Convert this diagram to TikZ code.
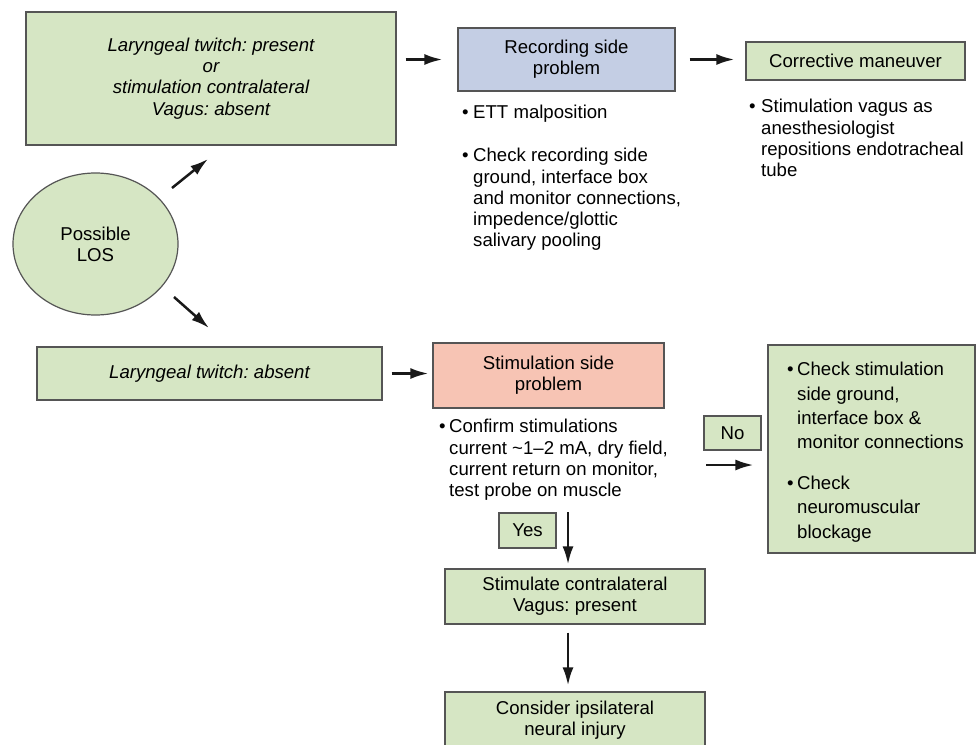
\documentclass[tikz,border=0pt]{standalone}
\usepackage{fontspec}
\setmainfont{Liberation Sans}
\usetikzlibrary{arrows.meta,shapes.geometric}
\definecolor{boxgreen}{HTML}{D6E6C4}
\definecolor{boxblue}{HTML}{C4CEE4}
\definecolor{boxpink}{HTML}{F7C4B4}
\definecolor{edgegray}{HTML}{555555}
\newcommand{\dgfs}{\fontsize{18.6}{21.3}\selectfont\frenchspacing}
\newcommand{\dgfsw}{\fontsize{18.6}{24.3}\selectfont\frenchspacing}
\begin{document}
\begin{tikzpicture}[x=1pt,y=-1pt,
  box/.style={draw=edgegray, line width=1.2pt, rectangle, inner sep=0pt, align=center, font=\dgfs},
  listtext/.style={inner sep=0pt, anchor=north west, font=\dgfs},
  arr/.style={line width=2.5pt, draw=black!90, -{Latex[length=18pt,width=11pt]}}]
\useasboundingbox (0,0) rectangle (976,744);

\node[box, fill=boxgreen, minimum width=370pt, minimum height=133pt, font={\dgfs\itshape}] (L1) at (211,78.5)
  {Laryngeal twitch: present\\or\\stimulation contralateral\\Vagus: absent};
\node[box, fill=boxblue, minimum width=217pt, minimum height=63pt] (rec) at (566.5,59.5) {Recording side\\problem};
\node[box, fill=boxgreen, minimum width=219pt, minimum height=38pt] (corr) at (855.5,61) {Corrective maneuver};
\node[draw=edgegray, line width=1.2pt, ellipse, fill=boxgreen, minimum width=165pt, minimum height=142pt,
  inner sep=0pt, align=center, font=\dgfs] (los) at (95.5,244) {Possible\\LOS};
\node[box, fill=boxgreen, minimum width=345pt, minimum height=53pt, font={\dgfs\itshape}] (L2) at (209.5,373.5)
  {Laryngeal twitch: absent};
\node[box, fill=boxpink, minimum width=231pt, minimum height=65pt] (stim) at (548.5,375.5) {Stimulation side\\problem};
\node[box, fill=boxgreen, minimum width=207pt, minimum height=208pt] (R) at (871.5,449) {};
\node[box, fill=boxgreen, minimum width=57pt, minimum height=34pt] (no) at (732.5,433) {No};
\node[box, fill=boxgreen, minimum width=57pt, minimum height=35pt] (yes) at (527.5,530.5) {Yes};
\node[box, fill=boxgreen, minimum width=260pt, minimum height=55pt] (stimc) at (575,596.5) {Stimulate contralateral\\Vagus: present};
\node[box, fill=boxgreen, minimum width=260pt, minimum height=57pt] (cons) at (575,720.5) {Consider ipsilateral\\neural injury};

\node[listtext] (recl) at (462,103.6) {\begin{tabular}{@{}p{11pt}@{}l@{}}
• & ETT malposition\\[21.7pt]
• & Check recording side\\
 & ground, interface box\\
 & and monitor connections,\\
 & impedence/glottic\\
 & salivary pooling\end{tabular}};
\node[listtext] (corrl) at (749,97.6) {\begin{tabular}{@{}p{12pt}@{}l@{}}
• & Stimulation vagus as\\
 & anesthesiologist\\
 & repositions endotracheal\\
 & tube\end{tabular}};
\node[listtext] (confl) at (439,417.6) {\begin{tabular}{@{}p{10pt}@{}l@{}}
• & Confirm stimulations\\
 & current \textasciitilde1–2 mA, dry field,\\
 & current return on monitor,\\
 & test probe on muscle\end{tabular}};
\node[listtext, font=\dgfsw] (Rl) at (787,358.5) {\begin{tabular}{@{}p{10pt}@{}l@{}}
• & Check stimulation\\
 & side ground,\\
 & interface box \&\\
 & monitor connections\\[16.7pt]
• & Check\\
 & neuromuscular\\
 & blockage\end{tabular}};

\draw[arr, shorten <=9pt, shorten >=15pt] (L1.east |- rec.west) -- (rec.west);
\draw[arr, shorten <=14pt, shorten >=11pt] (rec.east) -- (corr.west |- rec.east);
\coordinate (u1) at (172,188);
\coordinate (u2) at (208,159);
\draw[arr] (u1) -- (u2);
\coordinate (v1) at (174,297);
\coordinate (v2) at (209,328);
\draw[arr] (v1) -- (v2);
\draw[arr, shorten <=9pt, shorten >=4pt] (L2.east) -- (stim.west |- L2.east);
\coordinate (d1) at (568,512);
\draw[arr, shorten >=4pt] (d1) -- (d1 |- stimc.north);
\draw[arr, shorten <=8pt, shorten >=6pt] (stimc.south -| d1) -- (cons.north -| d1);
\coordinate (n1) at (706,465);
\draw[arr, shorten >=14pt] (n1) -- (n1 -| R.west);
\end{tikzpicture}
\end{document}
